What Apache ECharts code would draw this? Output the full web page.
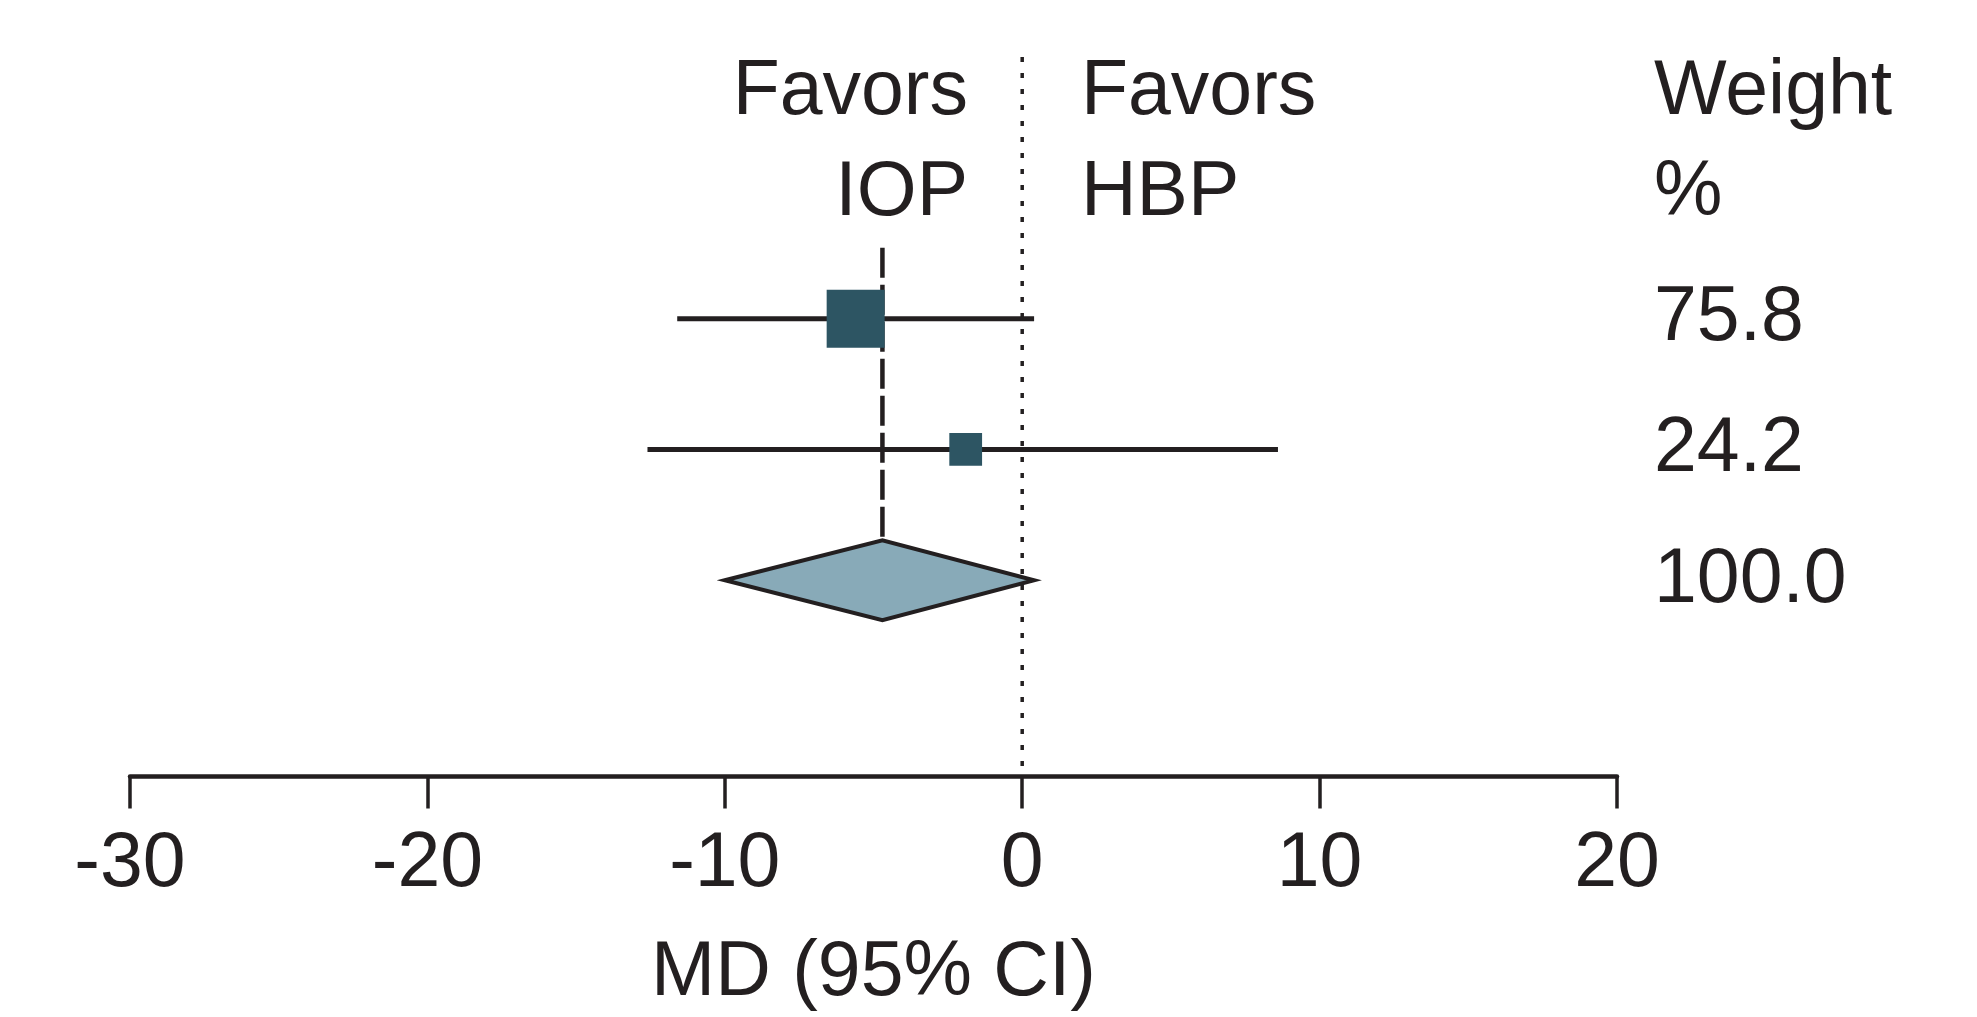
<!DOCTYPE html>
<html><head><meta charset="utf-8">
<script src="https://cdn.jsdelivr.net/npm/echarts@6/dist/echarts.min.js"></script>
<style>html,body{margin:0;padding:0;background:#fff}#c{width:1977px;height:1017px}</style>
</head><body><div id="c"></div>
<script>
// ---- data ----
const studyRows = [0, 1];
const studyMD = [-5.6, -1.9];
const studyLower = [-11.6, -12.6];
const studyUpper = [0.4, 8.6];
const studyWeight = [75.8, 24.2];
const pooledRow = 2;
const pooledMD = [-4.7];
const pooledLower = [-10.0];
const pooledUpper = [0.4];
const pooledWeight = [100.0];
const xTicks = [-30, -20, -10, 0, 10, 20];
const headerLeft = ['Favors', 'IOP'];
const headerRight = ['Favors', 'HBP'];
const headerWeight = ['Weight', '%'];
const axisTitle = 'MD (95% CI)';

// ---- style ----
const INK = '#231f20';
const FONT = "'Liberation Sans', Arial, sans-serif";
const FS = 77;
const WEIGHT_X = 1654;

const chart = echarts.init(document.getElementById('c'), null, {renderer: 'canvas'});

function renderStudy(params, api) {
  const row = api.value(0), m = api.value(1), lo = api.value(2), hi = api.value(3), w = api.value(4);
  const c = api.coord([m, row]);
  const l = api.coord([lo, row]);
  const h = api.coord([hi, row]);
  const s = 6.66 * Math.sqrt(w);
  return {type: 'group', children: [
    {type: 'line', shape: {x1: l[0], y1: l[1], x2: h[0], y2: h[1]}, style: {stroke: INK, lineWidth: 5}},
    {type: 'rect', shape: {x: c[0] - s / 2, y: c[1] - s / 2, width: s, height: s}, style: {fill: '#2d5563'}},
    {type: 'text', x: WEIGHT_X, y: c[1], style: {text: w.toFixed(1), fill: INK, fontSize: FS, fontFamily: FONT, align: 'left', verticalAlign: 'middle'}}
  ]};
}

function renderPooled(params, api) {
  const row = api.value(0), m = api.value(1), lo = api.value(2), hi = api.value(3), w = api.value(4);
  const c = api.coord([m, row]);
  const l = api.coord([lo, row]);
  const h = api.coord([hi, row]);
  const top0 = api.coord([m, studyRows[0]])[1] - 71;
  const hh = 40;
  return {type: 'group', children: [
    {type: 'line', shape: {x1: c[0], y1: top0, x2: c[0], y2: c[1] - hh}, style: {stroke: INK, lineWidth: 4.5, lineDash: [30, 7]}},
    {type: 'polygon', shape: {points: [[l[0], l[1]], [c[0], c[1] - hh], [h[0], h[1]], [c[0], c[1] + hh]]}, style: {fill: '#88aab8', stroke: INK, lineWidth: 4}},
    {type: 'text', x: WEIGHT_X, y: c[1], style: {text: w.toFixed(1), fill: INK, fontSize: FS, fontFamily: FONT, align: 'left', verticalAlign: 'middle'}}
  ]};
}

function renderNull(params, api) {
  const cs = params.coordSys;
  const x = api.coord([api.value(0), 0])[0];
  return {type: 'line', shape: {x1: x, y1: cs.y, x2: x, y2: cs.y + cs.height}, style: {stroke: INK, lineWidth: 3.5, lineDash: [5, 11]}};
}

function headerText(x, y, text, align) {
  return {type: 'text', x: x, y: y, style: {text: text, fill: INK, fontSize: FS, fontFamily: FONT, align: align, verticalAlign: 'middle'}};
}

const option = {
  backgroundColor: '#ffffff',
  animation: false,
  grid: {left: 130, right: 360, top: 57, bottom: 235, containLabel: false},
  xAxis: {
    type: 'value', min: xTicks[0], max: xTicks[xTicks.length - 1], interval: 10,
    axisLine: {show: true, onZero: false, lineStyle: {color: INK, width: 4.5}},
    axisTick: {show: true, length: 32, lineStyle: {color: INK, width: 3.5}},
    splitLine: {show: false},
    axisLabel: {color: INK, fontSize: FS, fontFamily: FONT, margin: 88, verticalAlign: 'middle'},
    name: axisTitle, nameLocation: 'middle', nameGap: 197,
    nameTextStyle: {color: INK, fontSize: FS, fontFamily: FONT, verticalAlign: 'middle'}
  },
  yAxis: {type: 'value', min: -2, max: 3.5, inverse: true, show: false},
  series: [
    {type: 'custom', renderItem: renderNull, data: [[0]], z: 1, silent: true},
    {type: 'custom', renderItem: renderPooled, z: 2,
      data: pooledMD.map((m, i) => [pooledRow, m, pooledLower[i], pooledUpper[i], pooledWeight[i]])},
    {type: 'custom', renderItem: renderStudy, z: 3,
      data: studyRows.map((r, i) => [r, studyMD[i], studyLower[i], studyUpper[i], studyWeight[i]])}
  ],
  graphic: [
    headerText(968, 93, headerLeft[0], 'right'),
    headerText(968, 194, headerLeft[1], 'right'),
    headerText(1081, 93, headerRight[0], 'left'),
    headerText(1081, 194, headerRight[1], 'left'),
    headerText(WEIGHT_X, 93, headerWeight[0], 'left'),
    headerText(WEIGHT_X, 194, headerWeight[1], 'left')
  ]
};
chart.setOption(option);
</script>
</body></html>
